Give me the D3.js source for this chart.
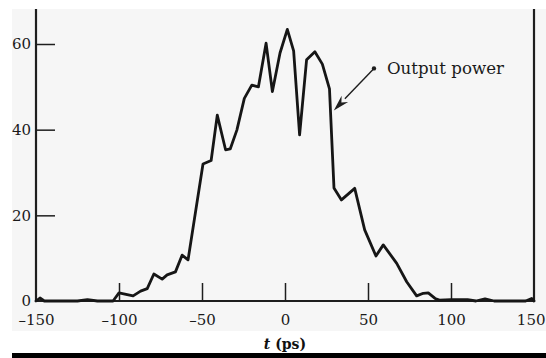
<!DOCTYPE html>
<html>
<head>
<meta charset="utf-8">
<script src="https://cdn.jsdelivr.net/npm/d3@7"></script>
<style>
  html, body { margin: 0; padding: 0; background: #ffffff; }
  svg { display: block; }
</style>
</head>
<body>
<svg id="chart" width="546" height="358"></svg>
<script>
// ---- data ----
const timePs = [-150, -147.6, -145, -125, -119, -113, -103.6, -100, -91.5, -87, -83, -79, -74, -71, -66, -62, -58.4,
  -49.4, -44.5, -40.8, -35.8, -33, -29, -24.5, -20, -16, -11.4, -7.6, -3, 1.4, 5.2, 8.8, 13, 18, 22.5, 26.8,
  29.5, 34, 42, 48, 54.8, 59.2, 67.3, 73.3, 79.3, 83.3, 86.3, 90.4, 93, 100, 110, 115, 120.5, 126, 145, 148.6, 150];
const outputPower = [0, 0.7, 0, 0, 0.3, 0, 0, 1.9, 1.2, 2.3, 2.9, 6.3, 5.1, 6.1, 6.8, 10.7, 9.6,
  32.0, 32.8, 43.4, 35.3, 35.5, 39.9, 47.3, 50.4, 50.0, 60.2, 48.9, 57.9, 63.4, 58.4, 38.8, 56.3, 58.2, 55.3, 49.5,
  26.4, 23.6, 26.3, 16.6, 10.5, 13.1, 8.8, 4.5, 1.2, 1.8, 1.9, 0.6, 0.2, 0.3, 0.3, 0, 0.5, 0, 0, 0.6, 0];

const xTicks = [-150, -100, -50, 0, 50, 100, 150];
const yTicks = [0, 20, 40, 60];
const xLabel = "(ps)";
const xLabelVar = "t";
const annotationText = "Output power";
const annotationDot = [53.6, 54.3];   // data coords of the label dot
const annotationTip = [29.4, 44.5];   // data coords of the arrow tip

// ---- layout ----
const svg = d3.select("#chart");
const x = d3.scaleLinear().domain([-150, 150]).range([36, 534]);
const y = d3.scaleLinear().domain([0, 60]).range([301, 44]);
const yTop = 68.2;

const serif = "'DejaVu Serif', 'Liberation Serif', serif";

// paper background
svg.append("rect").attr("x", 12).attr("y", 9).attr("width", 534).attr("height", 322)
  .attr("fill", "#f6f6f6");

// frame lines
const frame = svg.append("g").attr("stroke", "#1e1e1e").attr("stroke-width", 2.2).attr("fill", "none");
frame.append("line").attr("x1", x(-150)).attr("x2", x(-150)).attr("y1", y(0) + 1).attr("y2", y(yTop));
frame.append("line").attr("x1", x(150)).attr("x2", x(150)).attr("y1", y(0) + 1).attr("y2", y(yTop));
frame.append("line").attr("x1", x(-150) - 1).attr("x2", x(150) + 1).attr("y1", y(0)).attr("y2", y(0));

// y axis (inward ticks)
const yAxis = svg.append("g").attr("transform", `translate(${x(-150)},0)`)
  .call(d3.axisLeft(y).tickValues(yTicks).tickSizeInner(-19).tickSizeOuter(0).tickPadding(5).tickFormat(d3.format("d")));
yAxis.select(".domain").remove();
yAxis.selectAll(".tick line").attr("stroke", "#1e1e1e").attr("stroke-width", 1.5)
  .filter(d => d === 0).remove();
yAxis.selectAll(".tick text").attr("font-family", serif).attr("font-size", 15).attr("fill", "#1a1a1a");

// x axis (inward ticks)
const xAxis = svg.append("g").attr("transform", `translate(0,${y(0)})`)
  .call(d3.axisBottom(x).tickValues(xTicks).tickSizeInner(-18).tickSizeOuter(0).tickPadding(13)
    .tickFormat(d => d < 0 ? "\u2013" + Math.abs(d) : String(d)));
xAxis.select(".domain").remove();
xAxis.selectAll(".tick line").attr("stroke", "#1e1e1e").attr("stroke-width", 1.5)
  .filter(d => d === -150 || d === 150).remove();
xAxis.selectAll(".tick text").attr("font-family", serif).attr("font-size", 15).attr("fill", "#1a1a1a");
// keep the last label inside the window
xAxis.selectAll(".tick text").filter(d => d === 150).attr("text-anchor", "end").attr("x", 546 - x(150) - 1);

// curve
const pts = timePs.map((t, i) => [t, outputPower[i]]);
svg.append("path").datum(pts)
  .attr("fill", "none").attr("stroke", "#161616").attr("stroke-width", 2.8)
  .attr("stroke-linejoin", "round").attr("stroke-linecap", "round")
  .attr("d", d3.line().x(d => x(d[0])).y(d => y(d[1])));

// annotation arrow
const dx0 = x(annotationDot[0]), dy0 = y(annotationDot[1]);
const tx = x(annotationTip[0]), ty = y(annotationTip[1]);
const ang = Math.atan2(ty - dy0, tx - dx0);
const headLen = 16, headW = 4.5;
const bx = tx - headLen * Math.cos(ang), by = ty - headLen * Math.sin(ang);
svg.append("line").attr("x1", dx0).attr("y1", dy0).attr("x2", bx).attr("y2", by)
  .attr("stroke", "#1e1e1e").attr("stroke-width", 1.4);
svg.append("path")
  .attr("d", `M${tx},${ty}L${bx + headW * Math.sin(ang)},${by - headW * Math.cos(ang)}L${bx + 5 * Math.cos(ang)},${by + 5 * Math.sin(ang)}L${bx - headW * Math.sin(ang)},${by + headW * Math.cos(ang)}Z`)
  .attr("fill", "#1e1e1e");
svg.append("circle").attr("cx", dx0).attr("cy", dy0).attr("r", 2.2).attr("fill", "#1e1e1e");
svg.append("text").attr("x", x(61.4)).attr("y", 74)
  .attr("font-family", serif).attr("font-size", 16).attr("fill", "#1a1a1a")
  .attr("textLength", 117).attr("lengthAdjust", "spacingAndGlyphs")
  .text(annotationText);

// x label
const lab = svg.append("text").attr("x", x(0)).attr("y", 349).attr("text-anchor", "middle")
  .attr("font-family", serif).attr("font-size", 14).attr("font-weight", "bold").attr("fill", "#111");
lab.append("tspan").attr("font-style", "italic").text(xLabelVar);
lab.append("tspan").text(" " + xLabel);

// bottom black bar
svg.append("rect").attr("x", 12).attr("y", 353).attr("width", 534).attr("height", 5).attr("fill", "#000");
</script>
</body>
</html>
